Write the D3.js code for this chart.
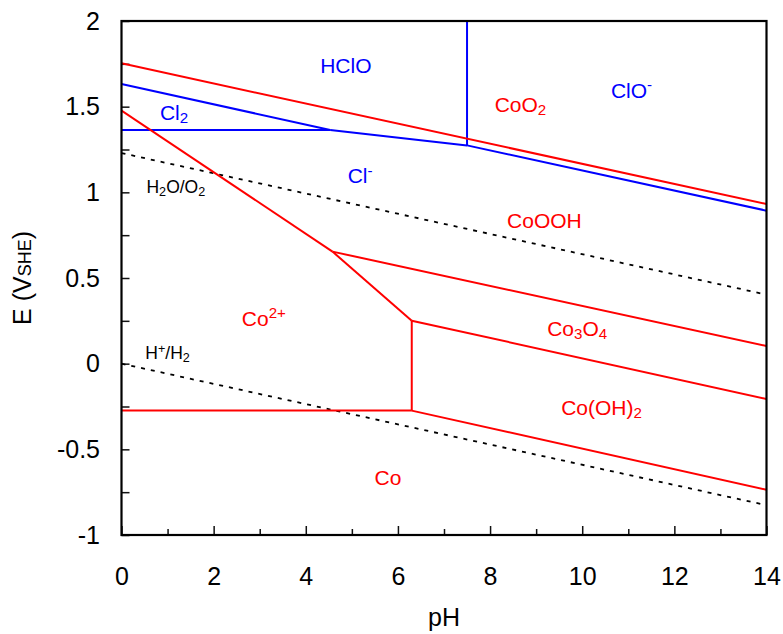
<!DOCTYPE html>
<html>
<head>
<meta charset="utf-8">
<script src="https://cdn.jsdelivr.net/npm/d3@7"></script>
<style>
  body { margin: 0; background: #fff; }
  text { font-family: "Liberation Sans", Arial, Helvetica, sans-serif; }
</style>
</head>
<body>
<div class="main-graph"></div>
<script>
// Pourbaix diagram of cobalt with chloride species

// boundaries of the cobalt system, [pH, E]
var coO2CoOOH   = [[0, 1.753], [14, 0.932]];
var co2CoOOH    = [[0, 1.477], [4.58, 0.654]];
var coOOHCo3O4  = [[4.58, 0.654], [14, 0.103]];
var co2Co3O4    = [[4.58, 0.654], [6.30, 0.251]];
var co3O4CoOH2  = [[6.30, 0.251], [14, -0.206]];
var co2CoOH2    = [[6.30, 0.251], [6.30, -0.274]];
var co2Co       = [[0, -0.274], [6.30, -0.274]];
var coOH2Co     = [[6.30, -0.274], [14, -0.736]];

// boundaries of the chlorine system
var cl2HClO     = [[0, 1.632], [4.53, 1.364]];
var cl2Cl       = [[0, 1.364], [4.53, 1.364]];
var hclOCl      = [[4.53, 1.364], [7.5, 1.274]];
var hclOClO     = [[7.5, 1.274], [7.5, 2]];
var clOCl       = [[7.5, 1.274], [14, 0.893]];

// water stability lines
var waterO2     = [[0, 1.229], [14, 0.403]];
var waterH2     = [[0, 0], [14, -0.826]];

var coLines = [coO2CoOOH, co2CoOOH, coOOHCo3O4, co2Co3O4, co3O4CoOH2, co2CoOH2, co2Co, coOH2Co];
var clLines = [cl2HClO, cl2Cl, hclOCl, hclOClO, clOCl];
var waterLines = [waterO2, waterH2];

// species names: [pH, E, pieces of text]
var coLabels = [
  [8.66, 1.469, [["CoO", ""], ["2", "sub"]]],
  [9.18, 0.792, [["CoOOH", ""]]],
  [3.09, 0.220, [["Co", ""], ["2+", "sup"]]],
  [9.89, 0.161, [["Co", ""], ["3", "sub"], ["O", ""], ["4", "sub"]]],
  [10.42, -0.300, [["Co(OH)", ""], ["2", "sub"]]],
  [5.785, -0.708, [["Co", ""]]]
];
var clLabels = [
  [4.87, 1.696, [["HClO", ""]]],
  [11.07, 1.551, [["ClO", ""], ["-", "sup"]]],
  [1.14, 1.422, [["Cl", ""], ["2", "sub"]]],
  [5.18, 1.054, [["Cl", ""], ["-", "sup"]]]
];
var waterLabels = [
  [1.18, 0.996, [["H", ""], ["2", "sub"], ["O/O", ""], ["2", "sub"]]],
  [1.00, 0.027, [["H", ""], ["+", "sup"], ["/H", ""], ["2", "sub"]]]
];

var xTicks = [0, 2, 4, 6, 8, 10, 12, 14];
var xMinor = [1, 3, 5, 7, 9, 11, 13];
var yTicks = [-1, -0.5, 0, 0.5, 1, 1.5, 2];
var yMinor = [-0.75, -0.25, 0.25, 0.75, 1.25, 1.75];

var W = 783, H = 634;
var margin = {top: 21, right: 16.5, bottom: 99, left: 121.5},
    width = W - margin.left - margin.right,
    height = H - margin.top - margin.bottom;

var svg = d3.select(".main-graph")
            .append("svg")
            .attr("width", W)
            .attr("height", H)
            .append("g")
            .attr("transform", "translate(" + margin.left + "," + margin.top + ")");

var x = d3.scaleLinear().domain([0, 14]).range([0, width]);
var y = d3.scaleLinear().domain([-1, 2]).range([height, 0]);

// tick numbers use a plain hyphen for the minus sign
var fmt = function(d) { return String(d); };

// X axis, ticks pointing inward
svg.append("g")
   .attr("class", "x-axis")
   .attr("transform", "translate(0," + height + ")")
   .call(d3.axisBottom(x).tickValues(xTicks).tickSize(-9).tickPadding(32).tickFormat(fmt))
   .call(g => g.select(".domain").remove());
svg.append("g")
   .attr("class", "x-minor")
   .attr("transform", "translate(0," + height + ")")
   .call(d3.axisBottom(x).tickValues(xMinor).tickSize(-6).tickFormat(""))
   .call(g => g.select(".domain").remove());

// Y axis
svg.append("g")
   .attr("class", "y-axis")
   .call(d3.axisLeft(y).tickValues(yTicks).tickSize(-8).tickPadding(21.5).tickFormat(fmt))
   .call(g => g.select(".domain").remove());
svg.append("g")
   .attr("class", "y-minor")
   .call(d3.axisLeft(y).tickValues(yMinor).tickSize(-8).tickFormat(""))
   .call(g => g.select(".domain").remove());

svg.selectAll(".tick line").attr("stroke", "#111").attr("stroke-width", 1.5);
svg.selectAll(".x-axis text, .y-axis text")
   .style("font-size", "25px")
   .attr("fill", "#000");

// clip so the lines stay inside the frame
svg.append("defs").append("clipPath")
   .attr("id", "plot-clip")
   .append("rect")
   .attr("width", width)
   .attr("height", height);

var plot = svg.append("g").attr("clip-path", "url(#plot-clip)");

var line = d3.line()
             .x((d) => { return x(d[0]); })
             .y((d) => { return y(d[1]); });

plot.selectAll(".water")
    .data(waterLines)
    .enter().append("path")
    .attr("class", "water")
    .attr("d", line)
    .attr("fill", "none")
    .attr("stroke", "#000")
    .attr("stroke-width", 1.8)
    .style("stroke-dasharray", ("4,6"));

plot.selectAll(".cl")
    .data(clLines)
    .enter().append("path")
    .attr("class", "cl")
    .attr("d", line)
    .attr("fill", "none")
    .attr("stroke", "#0000ff")
    .attr("stroke-width", 2);

plot.selectAll(".co")
    .data(coLines)
    .enter().append("path")
    .attr("class", "co")
    .attr("d", line)
    .attr("fill", "none")
    .attr("stroke", "#ff0000")
    .attr("stroke-width", 2);

// frame
svg.append("rect")
   .attr("width", width)
   .attr("height", height)
   .attr("fill", "none")
   .attr("stroke", "#000")
   .attr("stroke-width", 2.2);

// labels with sub- and superscripts
function drawLabels(list, color, size) {
  list.forEach(function(lb) {
    var t = svg.append("text")
               .attr("x", x(lb[0]))
               .attr("y", y(lb[1]))
               .attr("text-anchor", "middle")
               .attr("fill", color)
               .style("font-size", size + "px");
    var shift = 0;
    lb[2].forEach(function(p) {
      var target = p[1] == "sub" ? 0.16 * size : (p[1] == "sup" ? -0.36 * size : 0);
      t.append("tspan")
       .attr("dy", target - shift)
       .style("font-size", (p[1] ? size * 0.72 : size) + "px")
       .text(p[0]);
      shift = target;
    });
  });
}

drawLabels(coLabels, "#ff0000", 21);
drawLabels(clLabels, "#0000ff", 21);
drawLabels(waterLabels, "#000", 17.5);

// axis titles
svg.append("text")
   .attr("text-anchor", "middle")
   .attr("x", width / 2)
   .attr("y", 605)
   .style("font-size", "25px")
   .text("pH");

var ylab = svg.append("text")
   .attr("text-anchor", "middle")
   .attr("transform", "translate(" + (-margin.left + 31) + "," + (height / 2) + ")rotate(-90)")
   .style("font-size", "25px");
ylab.append("tspan").text("E (V");
ylab.append("tspan").style("font-size", "18px").text("SHE");
ylab.append("tspan").text(")");
</script>
</body>
</html>
